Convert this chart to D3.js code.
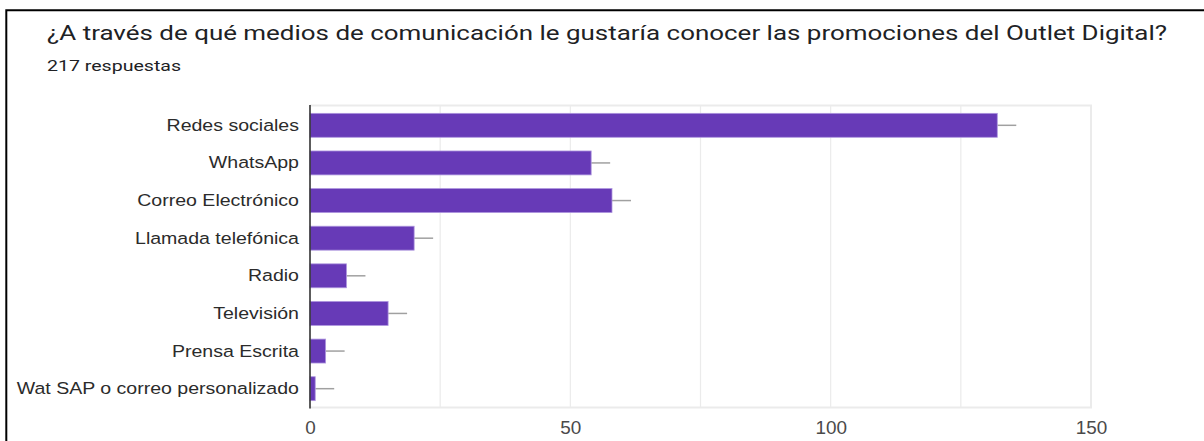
<!DOCTYPE html>
<html>
<head>
<meta charset="utf-8">
<script src="https://cdn.jsdelivr.net/npm/d3@7"></script>
<style>
  html, body { margin: 0; padding: 0; background: #fff; }
  svg { display: block; }
</style>
</head>
<body>
<script>
// Survey question: preferred channels to hear about Outlet Digital promotions
const categories = [
  "Redes sociales",
  "WhatsApp",
  "Correo Electrónico",
  "Llamada telefónica",
  "Radio",
  "Televisión",
  "Prensa Escrita",
  "Wat SAP o correo personalizado"
];
const counts = [132, 54, 58, 20, 7, 15, 3, 1];
const xTickValues = [0, 50, 100, 150];
const gridValues = [25, 50, 75, 100, 125, 150];
const titleText = "¿A través de qué medios de comunicación le gustaría conocer las promociones del Outlet Digital?";
const subtitleText = "217 respuestas";

const W = 1204, H = 441;
const plot = { left: 310, right: 1091, top: 105.5, bottom: 407.5 };

const svg = d3.select("body").append("svg")
  .attr("width", W).attr("height", H);

svg.append("rect").attr("width", W).attr("height", H).attr("fill", "#fff");

// card frame (top and left edges)
svg.append("path")
  .attr("d", `M6.3,${H + 2} V10.3 H${W + 2}`)
  .attr("fill", "none").attr("stroke", "#000").attr("stroke-width", 2);

// heading
svg.append("text")
  .attr("x", 47).attr("y", 40)
  .attr("textLength", 1120).attr("lengthAdjust", "spacingAndGlyphs")
  .attr("font-family", "Roboto, 'Noto Sans', sans-serif")
  .attr("font-size", 19.5).attr("fill", "#202124")
  .text(titleText);

svg.append("text")
  .attr("x", 47).attr("y", 70.5)
  .attr("textLength", 134).attr("lengthAdjust", "spacingAndGlyphs")
  .attr("font-family", "Roboto, 'Noto Sans', sans-serif")
  .attr("font-size", 15.5).attr("fill", "#202124")
  .text(subtitleText);

const x = d3.scaleLinear().domain([0, 150]).range([plot.left, plot.right]);
const y = d3.scaleBand().domain(categories)
  .range([plot.top + 1, plot.bottom])
  .paddingInner(0.364).paddingOuter(0.182);

// light grid
const grid = svg.append("g");
grid.selectAll("line.v").data(gridValues).join("line")
  .attr("x1", d => x(d)).attr("x2", d => x(d))
  .attr("y1", plot.top).attr("y2", plot.bottom)
  .attr("stroke", "#ebebeb").attr("stroke-width", d => d === 150 ? 2 : 1.2);
grid.selectAll("line.h").data([plot.top, plot.bottom]).join("line")
  .attr("x1", plot.left).attr("x2", x(150) + 1)
  .attr("y1", d => d).attr("y2", d => d)
  .attr("stroke", "#ebebeb").attr("stroke-width", 2);

const rows = categories.map((c, i) => ({ cat: c, value: counts[i] }));

// interval whiskers
const whisker = 19;
svg.append("g").selectAll("line").data(rows).join("line")
  .attr("x1", d => x(d.value)).attr("x2", d => x(d.value) + whisker)
  .attr("y1", d => y(d.cat) + y.bandwidth() / 2)
  .attr("y2", d => y(d.cat) + y.bandwidth() / 2)
  .attr("stroke", "#a0a0a0").attr("stroke-width", 1.5);

// bars
svg.append("g").selectAll("rect").data(rows).join("rect")
  .attr("x", x(0))
  .attr("y", d => y(d.cat))
  .attr("width", d => x(d.value) - x(0))
  .attr("height", y.bandwidth())
  .attr("fill", "#673ab7")
  .attr("stroke", "#ad95de").attr("stroke-width", 0.8);

// baseline axis
svg.append("line")
  .attr("x1", x(0)).attr("x2", x(0))
  .attr("y1", plot.top - 0.5).attr("y2", plot.bottom + 1)
  .attr("stroke", "#333").attr("stroke-width", 1.6);

// category labels
const labelStretch = 1.15;
const yAxis = svg.append("g")
  .attr("transform", `translate(${x(0)},0)`)
  .call(d3.axisLeft(y).tickSize(0).tickPadding(9.6));
yAxis.select(".domain").remove();
yAxis.selectAll("text")
  .attr("font-family", "'Liberation Sans', Arial, sans-serif")
  .attr("font-size", 17)
  .attr("fill", "#2b2b2b")
  .attr("transform", `scale(${labelStretch},1)`);

// value axis
const tickStretch = 1.08;
const xAxis = svg.append("g")
  .attr("transform", `translate(0,${plot.bottom})`)
  .call(d3.axisBottom(x).tickValues(xTickValues).tickSize(0).tickPadding(14)
    .tickFormat(d3.format("d")));
xAxis.select(".domain").remove();
xAxis.selectAll("text")
  .attr("font-family", "'Liberation Sans', Arial, sans-serif")
  .attr("font-size", 17.5)
  .attr("fill", "#4a4a4a")
  .attr("transform", `scale(${tickStretch},1)`);
</script>
</body>
</html>
